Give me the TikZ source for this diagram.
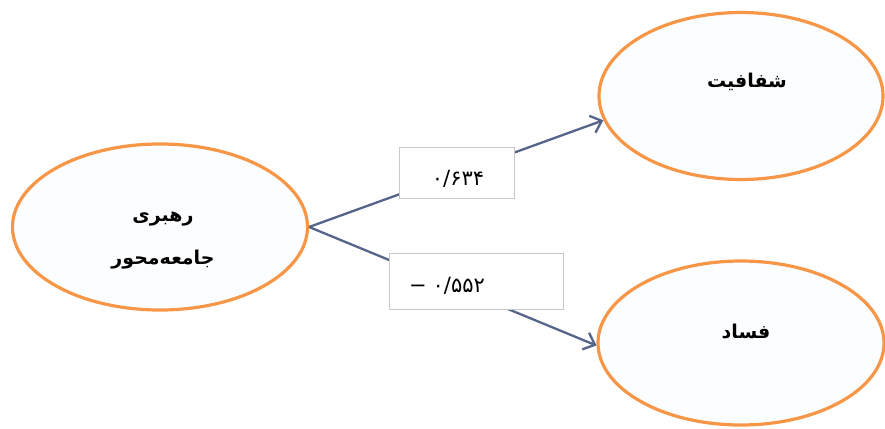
\documentclass[tikz,border=0pt]{standalone}
\usepackage{fontspec}
\usetikzlibrary{shapes.geometric,arrows.meta}
\TeXXeTstate=1
\newfontfamily\arabicfont[Script=Arabic]{DejaVu Sans}
\definecolor{ovalorange}{HTML}{F79646}
\definecolor{ovalfill}{HTML}{FBFDFF}
\definecolor{linkcol}{HTML}{56648A}
\definecolor{boxline}{HTML}{C8C8C8}
\tikzset{
  oval/.style={ellipse, draw=ovalorange, line width=3.2pt, fill=ovalfill, inner sep=0pt},
  ovaltext/.style={font=\arabicfont\bfseries\fontsize{19}{43}\selectfont, align=center, text=black},
  link/.style={draw=linkcol, line width=2.3pt, -{Straight Barb[length=10pt,width=18pt,line width=2.3pt]}},
  coefbox/.style={draw=boxline, line width=0.7pt, fill=white, inner sep=0pt},
  coeftext/.style={font=\arabicfont\fontsize{21}{24}\selectfont, inner sep=0pt},
}
\begin{document}
\begin{tikzpicture}[x=1pt,y=-1pt]
\useasboundingbox (0,0) rectangle (885,428);
\node[oval, minimum width=295pt, minimum height=166pt] (lead) at (160,227) {};
\node[oval, minimum width=284pt, minimum height=167pt] (trans) at (741,96) {};
\node[oval, minimum width=286pt, minimum height=164pt] (corr) at (741,343) {};
\node[ovaltext] (leadtxt) at (163,241) {\beginR رهبری\endR\\\beginR جامعه‌محور\endR};
\node[ovaltext] (transtxt) at (747,82) {\beginR شفافیت\endR};
\node[ovaltext] (corrtxt) at (746,332) {\beginR فساد\endR};
\draw[link] (lead.east) -- (trans.190);
\draw[link] (lead.east) -- (corr.181);
\node[coefbox, minimum width=115pt, minimum height=51pt] (c1) at (456.5,172.5) {};
\node[coefbox, minimum width=174pt, minimum height=56pt] (c2) at (476,281) {};
\node[coeftext] (c1txt) at (458,179) {۰/۶۳۴};
\node[coeftext] (c2txt) at (447,286) {\hbox{−}\hspace{6pt}\hbox{۰/۵۵۲}};
\end{tikzpicture}
\end{document}
